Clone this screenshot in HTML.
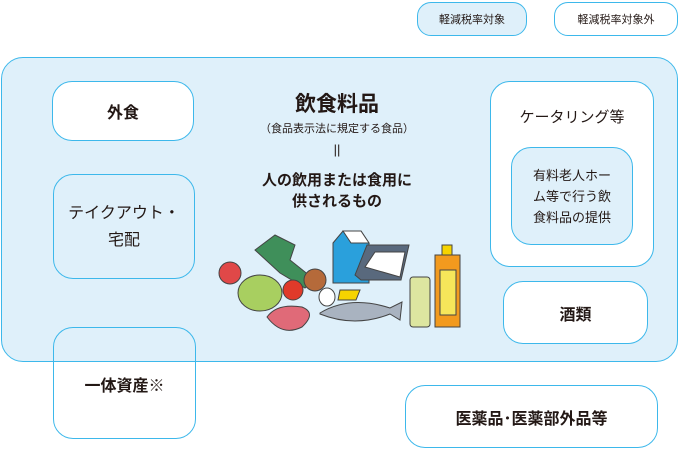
<!DOCTYPE html>
<html><head><meta charset="utf-8"><style>
*{margin:0;padding:0;box-sizing:border-box}
body{width:679px;height:449px;background:#fff;position:relative;overflow:hidden;font-family:"Liberation Sans","Noto Sans CJK JP",sans-serif;color:#231815}
.b{position:absolute;border:1.5px solid #3db8eb;border-radius:20px;display:flex;align-items:center;justify-content:center;text-align:center;font-weight:bold}
.w{background:#fff}.l{background:#dff0fa}
.t{position:absolute;text-align:center;font-weight:bold}
</style></head><body>
<div class="b l" style="left:417px;top:2px;width:110px;height:34px;border-radius:14px;font-size:11px;font-weight:normal">軽減税率対象</div>
<div class="b w" style="left:554px;top:2px;width:124px;height:34px;border-radius:14px;font-size:11px;font-weight:normal">軽減税率対象外</div>
<div class="b l" style="left:1px;top:57px;width:677px;height:305px;border-radius:22px"></div>
<div class="b w" style="left:52px;top:81px;width:142px;height:60px;font-size:16px">外食</div>
<div class="b l" style="left:53px;top:174px;width:142px;height:105px;font-size:16px;font-weight:normal;line-height:27px">テイクアウト・<br>宅配</div>
<div class="b" style="left:53px;top:327px;width:143px;height:112px;font-size:16px;background:transparent;align-items:flex-start;padding-top:44px">一体資産※</div>
<div class="b w" style="left:490px;top:81px;width:164px;height:186px;align-items:flex-start;padding-top:24px;font-size:15px;font-weight:normal">ケータリング等</div>
<div class="b l" style="left:511px;top:147px;width:122px;height:98px;font-size:13px;font-weight:normal;line-height:21px">有料老人ホー<br>ム等で行う飲<br>食料品の提供</div>
<div class="b w" style="left:503px;top:281px;width:145px;height:63px;font-size:16px">酒類</div>
<div class="b w" style="left:405px;top:385px;width:253px;height:63px;font-size:16px">医薬品･医薬部外品等</div>
<div class="t" style="left:237px;top:88px;width:200px;font-size:21px">飲食料品</div>
<div class="t" style="left:237px;top:120px;width:200px;font-size:11px;font-weight:normal">（食品表示法に規定する食品）</div>
<div class="t" style="left:237px;top:142px;width:200px;font-size:13px;font-weight:normal">||</div>
<div class="t" style="left:237px;top:170px;width:200px;font-size:15px;line-height:21px">人の飲用または食用に<br>供されるもの</div>
<svg style="position:absolute;left:215px;top:225px" width="250" height="110" viewBox="0 0 250 110">
<g stroke="#444" stroke-width="1">
<circle cx="15" cy="48" r="11" fill="#e04848"/>
<path d="M40 25 l20 -15 20 10 -5 15 25 20 -10 8 -25 -15z" fill="#3f8f5a"/>
<ellipse cx="45" cy="68" rx="22" ry="18" fill="#a8cf60"/>
<circle cx="78" cy="65" r="10" fill="#e03a2a"/>
<circle cx="100" cy="55" r="11" fill="#b56a3a"/>
<ellipse cx="112" cy="72" rx="8" ry="9" fill="#fff"/>
<path d="M52 92 q10 -14 35 -10 q15 6 0 20 q-20 10 -35 -10z" fill="#e06a78"/>
<path d="M118 18 l10 -12 h18 l8 12 v40 h-36z" fill="#2aa0dc"/>
<path d="M128 6 h18 l8 12 h-18z" fill="#fff"/>
<path d="M140 50 l12 -30 h42 l-8 35 h-40z" fill="#59697d"/>
<path d="M150 42 l10 -15 h30 l-5 25z" fill="#fff"/>
<path d="M125 65 h20 l-4 10 h-18z" fill="#f6d400"/>
<path d="M105 88 q30 -18 70 -5 l12 -6 -2 18 -10 -6 q-35 14 -70 0z" fill="#a9b3c0"/>
<rect x="195" y="52" width="20" height="50" rx="3" fill="#dde6a0"/>
<rect x="220" y="30" width="25" height="72" fill="#f29a1e"/>
<rect x="225" y="45" width="16" height="45" fill="#f6e65a"/>
<rect x="227" y="20" width="10" height="10" fill="#f6d400"/>
</g></svg>
</body></html>
